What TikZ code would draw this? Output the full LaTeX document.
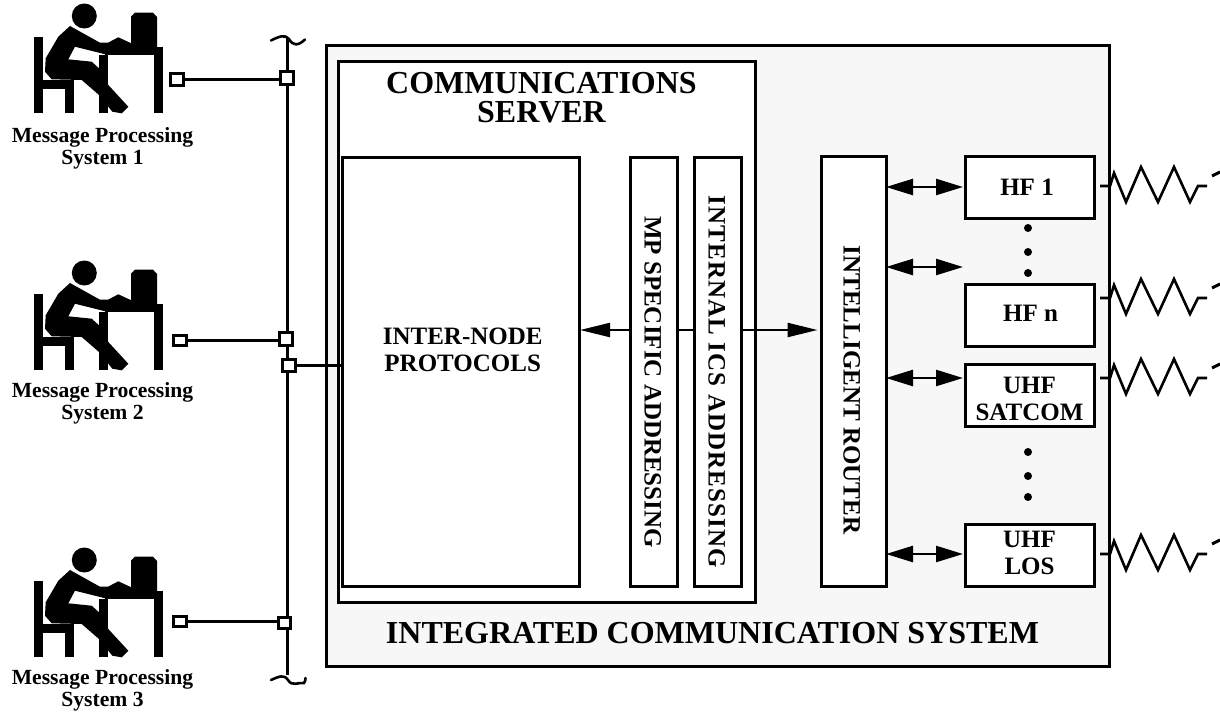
\documentclass[tikz,border=0pt]{standalone}
\usepackage{fontspec}
\setmainfont{Liberation Serif}
\usetikzlibrary{arrows.meta}
\definecolor{panel}{HTML}{F7F7F7}
\tikzset{
  x=1pt,y=-1pt,
  wire/.style={line width=3pt,black},
  box/.style={draw=black,line width=3pt,fill=white,inner sep=0pt,outer sep=0pt},
  lab/.style={font=\bfseries\fontsize{25}{27}\selectfont,align=center,inner sep=0pt},
  syslab/.style={font=\bfseries\fontsize{21.6}{22}\selectfont,align=center,inner sep=0pt},
  titlelab/.style={font=\bfseries\fontsize{32}{29}\selectfont,align=center,inner sep=0pt},
  dot/.style={circle,fill=black,inner sep=0pt,minimum size=8pt},
  tap/.style={box},
  dbl/.style={line width=2.5pt,{Triangle[length=27pt,width=16pt]}-{Triangle[length=27pt,width=16pt]}},
}
\newcommand{\personicon}{%
  \fill (84.3,16) circle (12.5);
  \fill (131,47.5) -- (131,16.5) -- (135,12.7) -- (153,12.7) -- (157,17) -- (157,47.5) -- cycle;
  \fill (105,47) rectangle (163,55);
  \fill (99,55) rectangle (108,113);
  \fill (153.5,47) rectangle (163,113);
  \fill (34,37) rectangle (43,113);
  \fill (43,80) rectangle (74,89);
  \fill (65,80) rectangle (74,113);
  \fill (70,26) -- (100,42.7) -- (108,42.7) -- (118.3,37.3) -- (135,45) -- (136.7,48.3) -- (108,48.3) -- (108,55) -- (99,52.7) -- (75,46.7) -- (68.3,59.3) -- (91.7,61.7) -- (99,68.3) -- (108.3,85) -- (128.3,106.7) -- (121.7,113.3) -- (112.3,111.7) -- (99,95) -- (81.7,80) -- (51.7,79.3) -- (45,71.7) -- (45.7,58.3) -- (58.3,36.7) -- cycle;
}
\newcommand{\radiowave}[1]{%
  \draw[line width=2.6pt,line join=miter] (1100,#1) -- (1110,#1) -- (1114,#1-13) -- (1126,#1+16) -- (1141,#1-19) -- (1158,#1+16) -- (1174,#1-19) -- (1190,#1+16) -- (1198,#1) -- (1207,#1);
  \draw[wire] (1212,#1-10) -- (1220,#1-14);
}
\begin{document}
\begin{tikzpicture}
\useasboundingbox (0,0) rectangle (1220,712);
% workstations
\personicon
\begin{scope}[shift={(0,257)}]\personicon\end{scope}
\begin{scope}[shift={(0,544)}]\personicon\end{scope}
\node[syslab] (s1) at (102.5,148) {Message Processing\\System 1};
\node[syslab] (s2) at (102.5,403) {Message Processing\\System 2};
\node[syslab] (s3) at (102.5,690.5) {Message Processing\\System 3};
% panel
\node[box,fill=panel,minimum width=783pt,minimum height=621pt] (ics) at (718,355.5) {};
\node[box,minimum width=416.5pt,minimum height=541pt] (cs) at (546.75,331.5) {};
\node[titlelab] (cst) at (541.5,97.5) {COMMUNICATIONS\\SERVER};
\node[titlelab] (icst) at (712.5,633) {INTEGRATED COMMUNICATION SYSTEM};
\node[box,minimum width=237pt,minimum height=429pt] (inode) at (460.5,371.5) {};
\node[box,minimum width=64.5pt,minimum height=429.5pt] (router) at (853.75,371.25) {};
% central arrow, behind the addressing bars
\coordinate (cy) at (700,330);
\draw[line width=2.2pt,{Triangle[length=30pt,width=14pt]}-{Triangle[length=30pt,width=14pt]},shorten <=1pt,shorten >=4pt] (inode.east |- cy) -- (router.west |- cy);
\node[box,minimum width=47.5pt,minimum height=429pt] (mp) at (653.75,371.5) {};
\node[box,minimum width=47.5pt,minimum height=429pt] (ia) at (717.75,371.5) {};
\node[lab,rotate=-90] (mpt) at (652.7,382) {MP SPECIFIC ADDRESSING};
\node[lab,rotate=-90] (iat) at (716.7,382) {\addfontfeature{LetterSpace=4.5}INTERNAL ICS ADDRESSING};
\node[lab,rotate=-90] (routert) at (851.7,390) {INTELLIGENT ROUTER};
\node[lab] (inodet) at (462.7,350) {INTER-NODE\\PROTOCOLS};
% radios
\node[box,minimum width=129pt,minimum height=61.5pt] (hf1) at (1029.5,187.25) {};
\node[box,minimum width=129pt,minimum height=61.5pt] (hfn) at (1029.5,315.25) {};
\node[box,minimum width=129pt,minimum height=61.5pt] (sat) at (1029.5,395.25) {};
\node[box,minimum width=129pt,minimum height=61.5pt] (los) at (1029.5,555.25) {};
\node[lab] (hf1t) at (1027,187) {HF 1};
\node[lab] (hfnt) at (1030.5,313) {HF n};
\node[lab] (satt) at (1029.5,398.5) {UHF\\SATCOM};
\node[lab] (lost) at (1029.5,553) {UHF\\LOS};
\node[dot] (d1) at (1028,228) {};
\node[dot] (d2) at (1028,252) {};
\node[dot] (d3) at (1028,273) {};
\node[dot] (d4) at (1028,452) {};
\node[dot] (d5) at (1028,476) {};
\node[dot] (d6) at (1028,497) {};
\coordinate (a1) at (900,187);
\coordinate (a2) at (963,267);
\coordinate (a3) at (900,378);
\coordinate (a4) at (900,554);
\draw[dbl,shorten >=2pt] (router.east |- a1) -- (hf1.west |- a1);
\draw[dbl] (router.east |- a2) -- (a2);
\draw[dbl,shorten >=2pt] (router.east |- a3) -- (sat.west |- a3);
\draw[dbl,shorten >=2pt] (router.east |- a4) -- (los.west |- a4);
\radiowave{186}
\radiowave{298}
\radiowave{378}
\radiowave{554}
% bus
\coordinate (bustop) at (287,37);
\coordinate (busbot) at (287,675);
\draw[wire] (bustop) -- (busbot);
\draw[line width=2.6pt,line cap=round] (271,40.5) .. controls (279,36.5) and (285,34) .. (289,39) .. controls (293,46) and (298,46) .. (305,39.5);
\draw[line width=2.6pt,line cap=round] (271,680) .. controls (279,676.5) and (284,674) .. (288,680) .. controls (292,687) and (299,682) .. (304,683) .. controls (305,682) and (305.5,680) .. (305.5,678);
\node[tap,minimum width=13pt,minimum height=12pt] (sm1) at (177,79) {};
\node[tap,minimum width=13pt,minimum height=10pt] (sm2) at (180,340) {};
\node[tap,minimum width=13pt,minimum height=10pt] (sm3) at (180,621) {};
\node[tap,minimum width=13pt,minimum height=13pt] (j1) at (286.5,78) {};
\node[tap,minimum width=13pt,minimum height=13pt] (j2) at (285.5,339) {};
\node[tap,minimum width=13pt,minimum height=12pt] (j2b) at (289,365) {};
\node[tap,minimum width=12pt,minimum height=11pt] (j3) at (284,623) {};
\draw[wire] (sm1.east) -- (j1.west |- sm1.east);
\draw[wire] (sm2.east) -- (j2.west |- sm2.east);
\draw[wire] (sm3.east) -- (j3.west |- sm3.east);
\draw[wire] (j2b.east) -- (inode.west |- j2b.east);
\end{tikzpicture}
\end{document}
